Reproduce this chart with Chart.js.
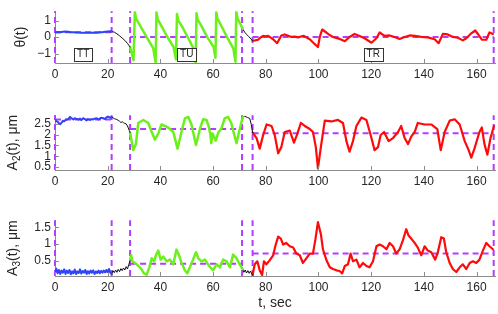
<!DOCTYPE html>
<html><head><meta charset="utf-8">
<script src="https://cdn.jsdelivr.net/npm/chart.js@4.4.1/dist/chart.umd.min.js"></script>
<style>
html,body{margin:0;padding:0;background:#fff;width:498px;height:314px;overflow:hidden;position:relative}
canvas{position:absolute;left:0}
</style></head><body>
<canvas id="c1" width="498" height="96" style="top:0px"></canvas>
<canvas id="c2" width="498" height="96" style="top:104px"></canvas>
<canvas id="c3" width="498" height="105" style="top:209px"></canvas>
<script>
// ---------- data ----------
const phaseBounds = [0, 21.5, 28.5, 71, 75, 166.5];
const phaseLabels = ['TT', 'TU', 'TR'];
const phaseLabelT = [10.7, 50, 120.8];
const phaseLabelTheta = -1.04;
const xTickValues = [0, 20, 40, 60, 80, 100, 120, 140, 160];
const thetaTicks = [-1, 0, 1];
const a2Ticks = [0.5, 1, 1.5, 2, 2.5];
const a3Ticks = [0.5, 1, 1.5];
const thetaMeans = [0.3, 0, 0];
const a2Means = [2.7, 2.26, 2.06];
const a3Means = [0.17, 0.41, 0.71];

const thetaTT = [[0,0.3],[1,0.31],[2,0.3],[3,0.32],[4,0.34],[5,0.32],[6,0.3],[7,0.29],[8,0.28],[9,0.28],[10,0.27],[11,0.27],[12,0.26],[13,0.26],[14,0.27],[15,0.28],[16,0.27],[17,0.29],[18,0.3],[19,0.32],[20,0.34],[21,0.35],[21.5,0.34]];
const thetaTrans1 = [[21.5,0.34],[22.5,0.3],[23.5,0.2],[24.5,0.08],[25.5,-0.06],[26.5,-0.2],[27.5,-0.38],[28.5,-0.6]];
const thetaTU = [[28.5,-0.6],[29.8,-1.4],[30.3,1.52],[30.8,1.1],[32.2,0.72],[34.8,0.0],[37.3,-0.69],[38.2,-1.54],
  [38.5,1.5],[39,1.08],[40.3,0.7],[42.5,0.05],[45,-0.6],[45.9,-1.35],
  [46.3,1.4],[46.8,1.0],[48.1,0.68],[50.3,0.02],[52.6,-0.7],[53.4,-1.57],
  [53.7,1.45],[54.2,1.05],[55.5,0.7],[57.8,0.0],[60.2,-0.6],[60.9,-1.25],
  [61.2,1.5],[61.7,1.1],[63,0.72],[65.3,0.0],[67.7,-0.7],[68.5,-1.5],
  [68.8,1.55],[69.3,1.12],[70.5,0.75],[71.2,0.5]];
const thetaTrans2 = [[71.2,0.5],[72,0.3],[72.8,0.15],[73.6,0.02],[74.4,-0.12],[75,-0.22]];
const thetaTR = [[75,-0.22],[76,-0.2],[77.1,-0.16],[78,-0.02],[79,0.07],[80,0.05],[80.9,0.07],[82,-0.05],[82.8,-0.13],[84.3,-0.37],[85.9,0.1],[87.2,0.16],[88.5,0.08],[89.7,0.01],[91,0.03],[92.2,-0.02],[93.5,0.04],[94.5,0.07],[95.5,-0.03],[96.7,-0.13],[98.6,-0.43],[99.8,-0.6],[100.5,0.01],[101.4,0.46],[103,0.28],[104,0.15],[105.5,0.01],[107,-0.06],[108.1,-0.11],[110,-0.25],[111.8,0.01],[113.7,0.19],[115.6,0.07],[117.5,-0.07],[120.1,-0.34],[122,-0.07],[123.2,0.28],[125.1,0.07],[127,0.1],[128.9,0.01],[130.8,-0.11],[132.7,0.01],[134.6,0.1],[136.5,0.07],[139,0.01],[141.5,-0.02],[144.1,-0.13],[145.6,-0.37],[147.2,0.19],[149.1,0.16],[151,0.01],[152.9,-0.04],[154.8,-0.2],[156.1,-0.07],[158,0.23],[159.5,0.4],[160.5,0.19],[162,-0.16],[163.7,-0.16],[164.9,0.28],[166.2,0.19]];

const a2TT = [[0,2.68],[0.5,2.62],[1,2.6],[1.5,2.52],[2,2.48],[2.5,2.56],[3,2.64],[3.5,2.62],[4,2.68],[5,2.72],[5.7,2.82],[6.5,2.74],[7,2.7],[7.5,2.76],[8.2,2.72],[9,2.7],[9.5,2.74],[10,2.68],[10.7,2.76],[11.5,2.7],[12,2.66],[12.5,2.72],[13.3,2.68],[14,2.72],[14.5,2.7],[15,2.74],[15.8,2.76],[16.5,2.7],[17,2.74],[17.5,2.78],[18.3,2.76],[19,2.72],[19.5,2.8],[20.2,2.84],[21,2.78],[21.5,2.82]];
const a2Trans1 = [[21.5,2.82],[22,2.78],[22.5,2.74],[23,2.72],[23.5,2.7],[24,2.66],[24.5,2.62],[25,2.56],[25.5,2.6],[26,2.55],[26.5,2.52],[27,2.5],[27.5,2.4],[28.2,2.19],[28.5,2.1]];
const a2TU = [[28.5,2.1],[29.7,1.28],[30.7,1.56],[31.6,2.54],[33.5,2.68],[35.4,2.54],[36.7,2.12],[37.9,1.77],[39.2,2.05],[40.4,2.47],[41.7,2.4],[42.9,2.33],[44.9,2.12],[46.5,1.35],[48,2.12],[49.3,2.75],[50.6,2.82],[51.8,2.47],[53.5,1.52],[55,2.26],[56.2,2.71],[57.5,2.68],[58.3,2.4],[59,2.0],[59.3,1.6],[59.8,2.05],[60.5,1.85],[61,1.72],[62,2.1],[63.2,2.3],[64.4,2.75],[65.7,2.82],[66.9,2.54],[67.8,2.1],[68.9,1.6],[70,2.2],[70.8,2.6],[71.4,2.82]];
const a2Trans2 = [[71.4,2.82],[72,2.85],[73,2.8],[73.9,2.75],[74.5,2.47],[75,2.1]];
const a2TR = [[75,2.1],[76.5,1.84],[77.7,1.35],[79,1.98],[80.3,2.47],[82.2,2.4],[83.4,1.98],[84.7,1.14],[85.9,1.42],[87.2,2.12],[89.1,2.19],[90.7,1.63],[92,2.05],[93.3,2.54],[94.8,2.4],[96.7,2.26],[97.9,2.12],[99,1.42],[99.8,0.44],[100.9,1.42],[102.4,2.65],[104.9,2.61],[107.4,2.68],[109.3,2.54],[110.6,1.7],[111.8,1.21],[113.1,1.7],[114.4,2.4],[116.3,2.79],[118.2,2.68],[119.8,1.98],[121.3,1.28],[122.6,1.42],[123.6,1.98],[124.9,2.12],[126.6,1.7],[128.3,1.84],[130.2,2.12],[131.4,2.4],[132.7,1.84],[134,1.56],[135.2,1.91],[136.5,2.12],[137.7,2.54],[140.3,2.47],[142.8,2.47],[145.1,2.26],[146.4,1.28],[147.9,2.12],[149.8,2.65],[151.7,2.71],[153.6,2.47],[155.5,1.7],[157,1.28],[158,0.93],[159.2,1.35],[161.1,2.12],[162,2.33],[163,1.56],[164.1,1.07],[165.3,1.84],[166.6,2.4]];

const a3TT = [[0,0.16],[0.5,0.26],[1,0.12],[1.5,0.22],[2,0.1],[2.5,0.2],[3,0.14],[3.5,0.24],[4,0.1],[4.5,0.2],[5,0.13],[5.5,0.22],[6,0.09],[6.5,0.18],[7,0.12],[7.5,0.23],[8,0.1],[8.5,0.17],[9,0.13],[9.5,0.24],[10,0.11],[10.5,0.19],[11,0.14],[11.5,0.22],[12,0.1],[12.5,0.18],[13,0.12],[13.5,0.2],[14,0.14],[14.5,0.21],[15,0.1],[15.5,0.17],[16,0.13],[16.5,0.2],[17,0.12],[17.5,0.19],[18,0.14],[18.5,0.2],[19,0.15],[19.5,0.22],[20,0.16],[20.5,0.25],[21,0.14],[21.5,0.1]];
const a3Trans1 = [[21.5,0.1],[22,0.2],[22.5,0.14],[23,0.22],[23.5,0.15],[24,0.24],[24.5,0.17],[25,0.26],[25.5,0.2],[26,0.28],[26.5,0.22],[27,0.32],[27.5,0.25],[28,0.38],[28.5,0.5]];
const a3TU = [[28.5,0.5],[28.9,0.66],[29.4,0.48],[30.7,0.41],[31.4,0.36],[32.2,0.3],[33,0.22],[33.7,0.12],[34.8,0.08],[35.8,0.3],[36.7,0.57],[37.6,0.48],[38.3,0.66],[39.2,0.8],[40.1,0.53],[41.1,0.62],[42.4,0.48],[43.6,0.53],[44.9,0.39],[46.1,0.83],[47.1,0.66],[48,0.44],[49.3,0.21],[50.2,0.12],[51.2,0.3],[52.4,0.53],[53.5,0.75],[54.4,0.57],[55.6,0.48],[56.9,0.53],[58.5,0.34],[60,0.21],[61.3,0.39],[62.6,0.3],[63.8,0.53],[65.1,0.48],[66.4,0.3],[67.6,0.68],[68.9,0.57],[70.1,0.39],[71.2,0.25]];
const a3Trans2 = [[71.2,0.25],[71.7,0.15],[72.2,0.22],[72.7,0.13],[73.2,0.2],[73.7,0.12],[74.2,0.19],[74.7,0.1],[75,0.07]];
const a3TR = [[75,0.07],[75.8,0.39],[76.8,0.48],[77.7,0.21],[78.6,0.07],[79.3,0.48],[80.2,0.39],[81.4,0.5],[82.8,0.66],[83.6,0.93],[84.7,1.22],[85.7,1.16],[86.6,0.98],[87.8,1.03],[89.1,0.93],[90.4,0.89],[91.6,0.71],[92.9,0.66],[94.1,0.43],[95.4,0.57],[96.7,0.71],[97.9,0.71],[98.8,1.12],[99.8,1.65],[100.9,1.3],[101.7,0.84],[103,0.52],[104.3,0.3],[105.5,0.25],[106.8,0.21],[108,0.19],[109,0.12],[110,0.34],[111.2,0.39],[112.2,0.71],[113.1,0.48],[114.4,0.53],[115.6,0.3],[116.9,0.43],[118.2,0.34],[119.4,0.3],[120.7,0.48],[122,0.93],[123.2,0.98],[124.5,0.93],[125.8,0.84],[127,1.03],[128.3,0.93],[129.5,0.71],[130.8,0.84],[132.1,1.12],[133.3,1.44],[134.2,1.25],[135.2,1.16],[136.5,1.03],[137.7,0.89],[139,0.66],[140.3,0.93],[141.5,0.8],[142.8,0.75],[144.3,0.53],[145.3,0.75],[146.6,1.2],[147.6,1.16],[148.5,0.75],[149.8,0.43],[151,0.25],[152.3,0.16],[153.6,0.3],[154.8,0.39],[156.1,0.25],[157.4,0.43],[158.6,0.48],[159.9,0.43],[161.1,0.53],[162.4,0.8],[163.7,1.03],[164.9,0.93],[166.2,0.84]];

// ---------- styles ----------
const FONT = "'Liberation Sans', Arial, sans-serif";
const C_BLUE = '#2b45f7', C_GREEN = '#6cf01c', C_RED = '#ff0a0a', C_BLACK = '#111111', C_PURPLE = '#b23cff';
const TXT = '#262626', AXIS = '#8c8c8c';

function line(points, color, width, extra) {
  return Object.assign({
    data: points.map(p => ({x: p[0], y: p[1]})),
    borderColor: color, borderWidth: width, pointRadius: 0, fill: false,
    borderJoinStyle: 'round', borderCapStyle: 'round', tension: 0
  }, extra || {});
}

function guideSets(means, yMin, yMax) {
  const sets = [];
  const segs = [[0, 1], [2, 3], [4, 5]];
  segs.forEach((s, i) => {
    sets.push(line([[phaseBounds[s[0]], means[i]], [phaseBounds[s[1]], means[i]]], C_PURPLE, 2,
      {borderDash: [6, 4], borderCapStyle: 'butt', clip: 4}));
  });
  phaseBounds.forEach(b => {
    sets.push(line([[b, yMin], [b, yMax]], C_PURPLE, 2, {borderDash: [6, 4], borderCapStyle: 'butt', clip: 4}));
  });
  return sets;
}

function fmt(v) { return v < 0 ? '\u2212' + Math.abs(v) : String(v); }

function drawYTitle(ctx, x, y, parts) {
  ctx.save();
  ctx.translate(x, y);
  ctx.rotate(-Math.PI / 2);
  ctx.fillStyle = TXT;
  ctx.textBaseline = 'middle';
  ctx.textAlign = 'left';
  let total = 0;
  parts.forEach(p => { ctx.font = (p.sub ? 10 : 14) + 'px ' + FONT; total += ctx.measureText(p.t).width; });
  let cx = -total / 2;
  parts.forEach(p => {
    ctx.font = (p.sub ? 10 : 14) + 'px ' + FONT;
    ctx.fillText(p.t, cx, p.sub ? 4 : 0);
    cx += ctx.measureText(p.t).width;
  });
  ctx.restore();
}

function decoPlugin(opts) {
  return {
    id: 'deco',
    afterDraw(chart) {
      const ctx = chart.ctx, a = chart.chartArea, xs = chart.scales.x, ys = chart.scales.y;
      ctx.save();
      ctx.strokeStyle = AXIS; ctx.lineWidth = 1;
      xs.ticks.forEach(t => {
        const px = Math.round(xs.getPixelForValue(t.value)) + 0.5;
        ctx.beginPath(); ctx.moveTo(px, a.bottom); ctx.lineTo(px, a.bottom - 4); ctx.stroke();
      });
      ys.ticks.forEach(t => {
        const py = Math.round(ys.getPixelForValue(t.value)) + 0.5;
        ctx.beginPath(); ctx.moveTo(a.left, py); ctx.lineTo(a.left + 4, py); ctx.stroke();
      });
      drawYTitle(ctx, opts.titleX, (a.top + a.bottom) / 2, opts.title);
      if (opts.boxes) {
        ctx.font = '10px ' + FONT;
        ctx.textAlign = 'center'; ctx.textBaseline = 'middle';
        phaseLabels.forEach((lab, i) => {
          const cx = xs.getPixelForValue(phaseLabelT[i]);
          const cy = ys.getPixelForValue(phaseLabelTheta);
          const w = ctx.measureText(lab).width + 6, h = 13;
          ctx.fillStyle = '#fff';
          ctx.fillRect(Math.round(cx - w / 2) + 0.5, Math.round(cy - h / 2) + 0.5, Math.round(w), h);
          ctx.strokeStyle = '#333'; ctx.lineWidth = 1;
          ctx.strokeRect(Math.round(cx - w / 2) + 0.5, Math.round(cy - h / 2) + 0.5, Math.round(w), h);
          ctx.fillStyle = TXT;
          ctx.fillText(lab, cx, cy + 0.5);
        });
      }
      ctx.restore();
    }
  };
}

function panel(id, o) {
  new Chart(document.getElementById(id), {
    type: 'line',
    data: {datasets: o.series.concat(guideSets(o.means, o.yMin, o.yMax))},
    options: {
      responsive: false, animation: false, events: [],
      layout: {padding: {top: o.padTop, right: 3, left: 0, bottom: 0}},
      plugins: {legend: {display: false}, tooltip: {enabled: false}},
      scales: {
        x: {
          type: 'linear', min: 0, max: 167,
          afterBuildTicks: s => { s.ticks = xTickValues.map(v => ({value: v})); },
          afterFit: s => { s.height = o.xH; },
          grid: {display: false, drawTicks: false},
          border: {display: true, color: AXIS, width: 1},
          ticks: {color: TXT, font: {family: FONT, size: 12}, padding: 4, maxRotation: 0, autoSkip: false, callback: v => fmt(v)},
          title: o.xTitle ? {display: true, text: o.xTitle, color: TXT, font: {family: FONT, size: 14}, padding: {top: 0, bottom: 2}} : {display: false}
        },
        y: {
          type: 'linear', min: o.yMin, max: o.yMax,
          afterBuildTicks: s => { s.ticks = o.yTicks.map(v => ({value: v})); },
          afterFit: s => { s.width = 55; },
          grid: {display: false, drawTicks: false},
          border: {display: true, color: AXIS, width: 1},
          ticks: {color: TXT, font: {family: FONT, size: 12}, padding: 4, autoSkip: false, callback: v => fmt(v)}
        }
      }
    },
    plugins: [decoPlugin(o)]
  });
}

panel('c1', {
  series: [line(thetaTT, C_BLUE, 2), line(thetaTrans1, C_BLACK, 1), line(thetaTU, C_GREEN, 2.5), line(thetaTrans2, C_BLACK, 1), line(thetaTR, C_RED, 2.2)],
  means: thetaMeans, yMin: -Math.PI / 2, yMax: Math.PI / 2, yTicks: thetaTicks,
  padTop: 4, xH: 33, titleX: 21, title: [{t: 'θ(t)'}], boxes: true
});
panel('c2', {
  series: [line(a2TT, C_BLUE, 2), line(a2Trans1, C_BLACK, 1), line(a2TU, C_GREEN, 2.5), line(a2Trans2, C_BLACK, 1), line(a2TR, C_RED, 2.2)],
  means: a2Means, yMin: 0.36, yMax: 2.9, yTicks: a2Ticks,
  padTop: 6, xH: 30, titleX: 13, title: [{t: 'A'}, {t: '2', sub: true}, {t: '(t), μm'}]
});
panel('c3', {
  series: [line(a3TT, C_BLUE, 2), line(a3Trans1, C_BLACK, 1), line(a3TU, C_GREEN, 2.5), line(a3Trans2, C_BLACK, 1), line(a3TR, C_RED, 2.2)],
  means: a3Means, yMin: 0.04, yMax: 1.71, yTicks: a3Ticks,
  padTop: 6, xH: 38, titleX: 13, title: [{t: 'A'}, {t: '3', sub: true}, {t: '(t), μm'}], xTitle: 't, sec'
});
</script>
</body></html>
